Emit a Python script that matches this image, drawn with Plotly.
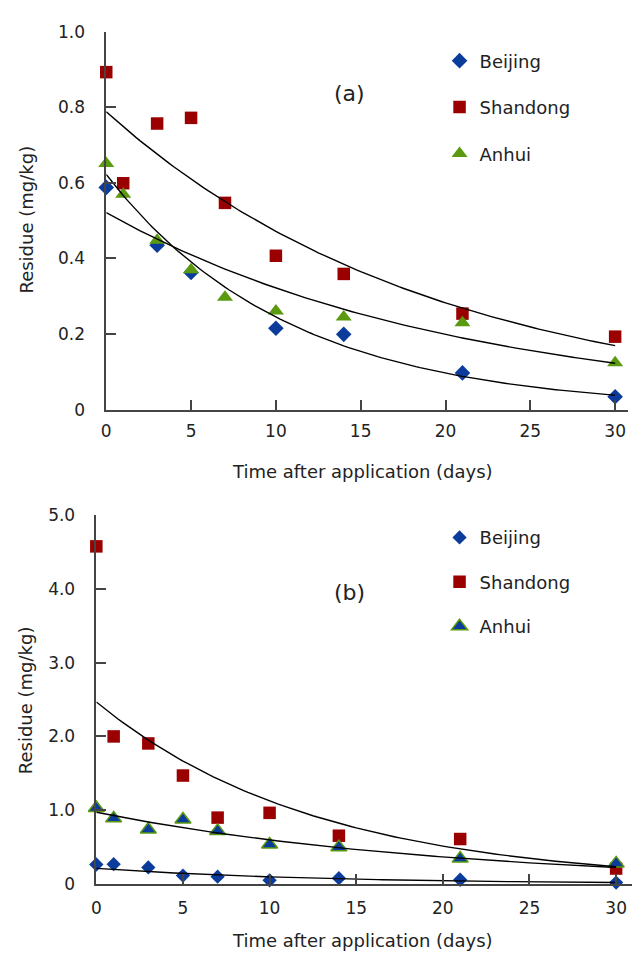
import numpy as np
import plotly.graph_objects as go

# the page body keeps its default 8px margin, so the figure is 16px smaller than the window
OFF = 8
W, H = 640 - 2 * OFF, 965 - 2 * OFF
FONT = "DejaVu Sans"

# ---------------- data: panel (a) ----------------
days_a = [0, 1, 3, 5, 7, 10, 14, 21, 30]
beijing_a_days = [0, 3, 5, 10, 14, 21, 30]
beijing_a_vals = [0.588, 0.435, 0.363, 0.215, 0.199, 0.097, 0.034]
shandong_a = [0.893, 0.599, 0.757, 0.772, 0.547, 0.407, 0.359, 0.254, 0.193]
anhui_a = [0.651, 0.570, 0.448, 0.370, 0.297, 0.261, 0.245, 0.230, 0.124]

# first-order fit parameters (C0, k) for panel (a)
fit_a_c0 = {"Beijing": 0.622, "Shandong": 0.788, "Anhui": 0.521}
fit_a_k = {"Beijing": 0.0932, "Shandong": 0.0513, "Anhui": 0.0482}

# ---------------- data: panel (b) ----------------
days_b = [0, 1, 3, 5, 7, 10, 14, 21, 30]
beijing_b = [0.265, 0.27, 0.225, 0.115, 0.10, 0.05, 0.08, 0.058, 0.02]
shandong_b = [4.575, 2.00, 1.905, 1.47, 0.90, 0.965, 0.655, 0.61, 0.21]
anhui_b = [1.03, 0.89, 0.74, 0.875, 0.72, 0.535, 0.50, 0.345, 0.28]

# first-order fit parameters (C0, k) for panel (b)
fit_b_c0 = {"Beijing": 0.212, "Shandong": 2.467, "Anhui": 0.973}
fit_b_k = {"Beijing": 0.078, "Shandong": 0.0784, "Anhui": 0.0488}

ytick_a_vals = [0, 0.2, 0.4, 0.6, 0.8, 1.0]
ytick_a_text = ["0", "0.2", "0.4", "0.6", "0.8", "1.0"]
ytick_b_vals = [0, 1, 2, 3, 4, 5]
ytick_b_text = ["0", "1.0", "2.0", "3.0", "4.0", "5.0"]
xtick_vals = [0, 5, 10, 15, 20, 25, 30]

# ---------------- styles ----------------
C_BLUE = "#0B3C9C"
C_RED = "#9B0000"
C_GREEN = "#5B9A0E"
C_AXIS = "#444444"
C_TEXT = "#222222"


def px(x):
    return (x - OFF) / W


def py(y):
    return 1 - (y - OFF) / H


fig = go.Figure()

# panel (a)
fig.add_trace(go.Scatter(x=beijing_a_days, y=beijing_a_vals, mode="markers", name="Beijing",
                         marker=dict(symbol="diamond", size=12, color=C_BLUE),
                         xaxis="x", yaxis="y", legend="legend", legendgroup="a1", cliponaxis=False))
fig.add_trace(go.Scatter(x=days_a, y=shandong_a, mode="markers", name="Shandong",
                         marker=dict(symbol="square", size=12.5, color=C_RED),
                         xaxis="x", yaxis="y", legend="legend", legendgroup="a2", cliponaxis=False))
fig.add_trace(go.Scatter(x=days_a, y=anhui_a, mode="markers", name="Anhui",
                         marker=dict(symbol="triangle-up", size=14, color=C_GREEN),
                         xaxis="x", yaxis="y", legend="legend", legendgroup="a3", cliponaxis=False))

xs = np.linspace(0, 30, 121)
for name in ["Shandong", "Anhui", "Beijing"]:
    fig.add_trace(go.Scatter(x=xs, y=fit_a_c0[name] * np.exp(-fit_a_k[name] * xs), mode="lines",
                             line=dict(color="black", width=1.4), showlegend=False,
                             xaxis="x", yaxis="y", hoverinfo="skip"))

# panel (b)
fig.add_trace(go.Scatter(x=days_b, y=beijing_b, mode="markers", name="Beijing",
                         marker=dict(symbol="diamond", size=11, color=C_BLUE),
                         xaxis="x2", yaxis="y2", legend="legend2", legendgroup="b1", cliponaxis=False))
fig.add_trace(go.Scatter(x=days_b, y=shandong_b, mode="markers", name="Shandong",
                         marker=dict(symbol="square", size=12.5, color=C_RED),
                         xaxis="x2", yaxis="y2", legend="legend2", legendgroup="b2", cliponaxis=False))
fig.add_trace(go.Scatter(x=days_b, y=anhui_b, mode="markers", name="Anhui",
                         marker=dict(symbol="triangle-up", size=14, color=C_BLUE,
                                     line=dict(color=C_GREEN, width=1.5)),
                         xaxis="x2", yaxis="y2", legend="legend2", legendgroup="b3", cliponaxis=False))
for name in ["Shandong", "Anhui", "Beijing"]:
    fig.add_trace(go.Scatter(x=xs, y=fit_b_c0[name] * np.exp(-fit_b_k[name] * xs), mode="lines",
                             line=dict(color="black", width=1.4), showlegend=False,
                             xaxis="x2", yaxis="y2", hoverinfo="skip"))

axis_common = dict(showgrid=False, zeroline=False, showline=True, linecolor=C_AXIS, linewidth=1.5,
                   ticks="inside", ticklen=10, tickwidth=1.5, tickcolor=C_AXIS,
                   tickfont=dict(family=FONT, size=17, color=C_TEXT))

# panel geometry (window pixels)
a_x0, a_x30, a_right = 102, 615, 628
a_y0, a_y1 = 408, 22
pd_a = (a_x30 - a_x0) / 30
b_x0, b_x30, b_right = 92, 616, 632
b_y0, b_y5 = 892.7, 515.7
pd_b = (b_x30 - b_x0) / 30

fig.update_layout(
    xaxis=dict(axis_common, domain=[px(a_x0), px(a_right)], range=[0, (a_right - a_x0) / pd_a],
               tickvals=xtick_vals, anchor="y", ticklabelstandoff=5),
    yaxis=dict(axis_common, domain=[py(a_y0), py(a_y1)], range=[0, 1.0],
               tickvals=ytick_a_vals, ticktext=ytick_a_text, anchor="x", ticklabelstandoff=16),
    xaxis2=dict(axis_common, domain=[px(b_x0), px(b_right)], range=[0, (b_right - b_x0) / pd_b],
                tickvals=xtick_vals, anchor="y2", ticklabelstandoff=8),
    yaxis2=dict(axis_common, domain=[py(b_y0), py(b_y5)], range=[0, 5.0],
                tickvals=ytick_b_vals, ticktext=ytick_b_text, anchor="x2", ticklabelstandoff=16),
    width=W, height=H, margin=dict(l=0, r=0, t=0, b=0),
    paper_bgcolor="white", plot_bgcolor="white",
    legend=dict(x=px(438), y=py(33), xanchor="left", yanchor="top", tracegroupgap=20,
                font=dict(family=FONT, size=18, color=C_TEXT), bgcolor="rgba(0,0,0,0)"),
    legend2=dict(x=px(438), y=py(520), xanchor="left", yanchor="top", tracegroupgap=18,
                 font=dict(family=FONT, size=18, color=C_TEXT), bgcolor="rgba(0,0,0,0)"),
    showlegend=True,
)

ann_font = dict(family=FONT, size=18, color=C_TEXT)
annotations = [
    dict(x=px(347), y=py(85), text="(a)", font=dict(family=FONT, size=22, color=C_TEXT)),
    dict(x=px(347), y=py(595), text="(b)", font=dict(family=FONT, size=22, color=C_TEXT)),
    dict(x=px(22), y=py(214), text="Residue (mg/kg)", textangle=-90, font=ann_font),
    dict(x=px(20), y=py(705), text="Residue (mg/kg)", textangle=-90, font=ann_font),
    dict(x=px(360), y=py(471), text="Time after application (days)", font=ann_font),
    dict(x=px(360), y=py(950), text="Time after application (days)", font=ann_font),
]
for a in annotations:
    a.update(xref="paper", yref="paper", showarrow=False, xanchor="center", yanchor="middle")
fig.update_layout(annotations=annotations)

fig.write_html("out.html", config={"displayModeBar": False})
